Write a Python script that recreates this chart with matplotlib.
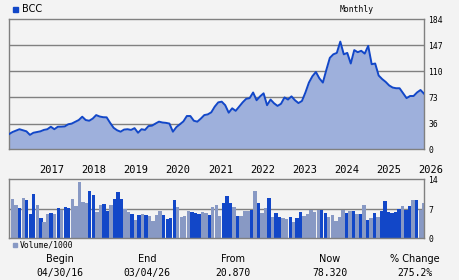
import matplotlib
matplotlib.use("Agg")
import matplotlib.pyplot as plt
import matplotlib.transforms as mtransforms
import pandas as pd

# ---------------- data ----------------
ticker = "BCC"
period = "Monthly"
price = [21, 24, 26, 28, 26.5, 25, 20, 23, 24, 25, 27, 28, 31.5, 28, 31.5, 31.6,
         32, 35, 36, 38.5, 41, 45.7, 41, 40, 43, 48, 46, 45, 44.8, 37, 30, 26.5,
         24.5, 27.5, 28, 27, 29.5, 23, 28, 27, 32.5, 33, 36, 38.7, 37.5, 37, 36,
         24.5, 31, 35, 39, 46.7, 46.7, 40, 38.7, 43, 48, 49, 51.9, 60, 66, 67, 62,
         51.4, 57.6, 54, 60, 66, 71, 72, 80, 69, 74.5, 78.8, 62, 70, 64.7, 61, 64,
         73, 70, 74.5, 69, 65, 68, 80, 94, 103, 109, 100, 94, 112, 129, 134, 136,
         152, 134, 136, 121, 140, 137, 139, 135, 146, 120, 121, 104, 99, 95, 90,
         87, 86, 86, 79, 72, 75, 75, 80, 83.5, 78.32]
volume = [9.4, 7.9, 7.2, 9.6, 9.1, 5.8, 10.6, 7.9, 4.8, 3.9, 5.8, 6.0, 5.8, 7.2,
          6.7, 7.5, 7.2, 9.4, 7.7, 13.4, 8.7, 8.4, 11.3, 10.3, 6.3, 7.9, 8.2, 6.5,
          7.9, 9.4, 11.0, 9.4, 7.0, 6.3, 5.8, 4.4, 5.6, 5.8, 5.6, 5.3, 4.1, 5.6,
          6.5, 5.6, 4.6, 4.8, 9.1, 7.5, 5.1, 5.3, 6.5, 6.3, 6.0, 5.8, 6.3, 6.0,
          5.6, 7.5, 7.9, 5.3, 8.4, 10.1, 8.4, 7.5, 5.3, 5.3, 6.5, 6.5, 6.7, 11.3,
          8.4, 6.0, 7.2, 9.6, 5.1, 6.0, 5.1, 4.8, 4.6, 5.1, 3.9, 4.8, 6.3, 5.3,
          5.8, 6.7, 6.3, 6.7, 6.7, 6.0, 5.1, 5.6, 4.1, 5.1, 6.7, 6.0, 6.5, 6.5,
          5.8, 5.8, 7.9, 4.4, 4.8, 6.0, 5.1, 6.5, 8.9, 6.3, 6.0, 6.3, 7.0, 7.7,
          6.7, 7.7, 9.1, 9.1, 6.7, 8.4]
# D = dark (up) bar, L = light (down) bar
vol_kind = ("LLDLDDDLDL" "LDLDLDDLLL" "LLDDLLDDLD" "DDLLDLDLDL" "LLLDDDDLLL"
            "LDDDLLDLLL" "DDDLDLLLDL" "DLLDLDDLLD" "LDDLLLLLDD" "LLLLLDLDLD"
            "LDLDLDDDDD" "DLDDLDLL")
price_y_ticks = [0, 36, 73, 110, 147, 184]
vol_y_ticks = [0, 7, 14]
year_labels = [2017, 2018, 2019, 2020, 2021, 2022, 2023, 2024, 2025, 2026]
stat_labels = ["Begin", "End", "From", "Now", "% Change"]
stat_values = ["04/30/16", "03/04/26", "20.870", "78.320", "275.2%"]

# ---------------- style ----------------
BG = "#f3f3f3"
DARK = "#1247c8"
LIGHT = "#8899c4"
FILL = "#9eb0dc"
GRID = "#808080"
MONO = "DejaVu Sans Mono"

W, H = 460, 280
fig = plt.figure(figsize=(W / 100, H / 100), dpi=100, facecolor=BG)

def fx(px):
    return px / W

def fy(py):
    return 1 - py / H

ax = fig.add_axes([fx(9), fy(149), fx(415), 130 / H])
axv = fig.add_axes([fx(9), fy(238.3), fx(415), 59 / H])

dates = pd.date_range("2016-04-30", "2026-03-04", periods=len(price))
vdates = pd.date_range("2016-05-31", periods=len(volume), freq="ME")

for a in (ax, axv):
    a.set_facecolor(BG)
    for s in a.spines.values():
        s.set_color(GRID)
        s.set_linewidth(1.0)
    a.set_xticks([])
    a.set_yticks([])
    a.set_xlim(dates[0], dates[-1])

# price
ax.set_ylim(0, 184)
for t in price_y_ticks[1:-1]:
    ax.axhline(t, color=GRID, lw=1.0, zorder=1)
ax.fill_between(dates, price, 0, color=FILL, zorder=2, lw=0)
ax.plot(dates, price, color=DARK, lw=1.4, zorder=3)
trans_r = mtransforms.blended_transform_factory(ax.transAxes, ax.transData)
for t in price_y_ticks:
    ax.text(1.01, t - 2, str(t), transform=trans_r, ha="left", va="center",
            fontsize=5.8, family=MONO, color="black")

# year labels
xt = ax.get_xaxis_transform()
for yr in year_labels:
    ax.text(pd.Timestamp(f"{yr}-01-01") + pd.Timedelta(days=15), -0.165, str(yr),
            transform=xt, ha="left", va="center", fontsize=7.5, family=MONO,
            clip_on=False)

# volume
axv.set_ylim(0, 14)
axv.axhline(7, color=GRID, lw=1.0, zorder=1)
colors = [DARK if c == "D" else LIGHT for c in vol_kind]
axv.bar(vdates, volume, width=29, color=colors, zorder=2, lw=0)
trans_rv = mtransforms.blended_transform_factory(axv.transAxes, axv.transData)
for t in vol_y_ticks:
    axv.text(1.01, t - 0.3, str(t), transform=trans_rv, ha="left", va="center",
             fontsize=5.8, family=MONO)

# header
fig.patches.append(plt.Rectangle((fx(13), fy(12)), fx(4.5), 5 / H, color=DARK,
                                 transform=fig.transFigure))
fig.text(fx(22.5), fy(9.5), ticker, ha="left", va="center", fontsize=7)
fig.text(fx(357), fy(9), period, ha="center", va="center", fontsize=5.8, family=MONO)

# volume legend
fig.patches.append(plt.Rectangle((fx(12.7), fy(247)), fx(4), 4 / H, color=LIGHT,
                                 transform=fig.transFigure))
fig.text(fx(20), fy(245), "Volume/1000", ha="left", va="center", fontsize=5.8,
         family=MONO)

# stats
centers = [60, 147, 233, 330, 415]
for cx, lab, val in zip(centers, stat_labels, stat_values):
    fig.text(fx(cx), fy(259), lab, ha="center", va="center", fontsize=7)
    fig.text(fx(cx), fy(273), val, ha="center", va="center", fontsize=7, family=MONO)

fig.savefig("out.png", dpi=100, facecolor=BG)
